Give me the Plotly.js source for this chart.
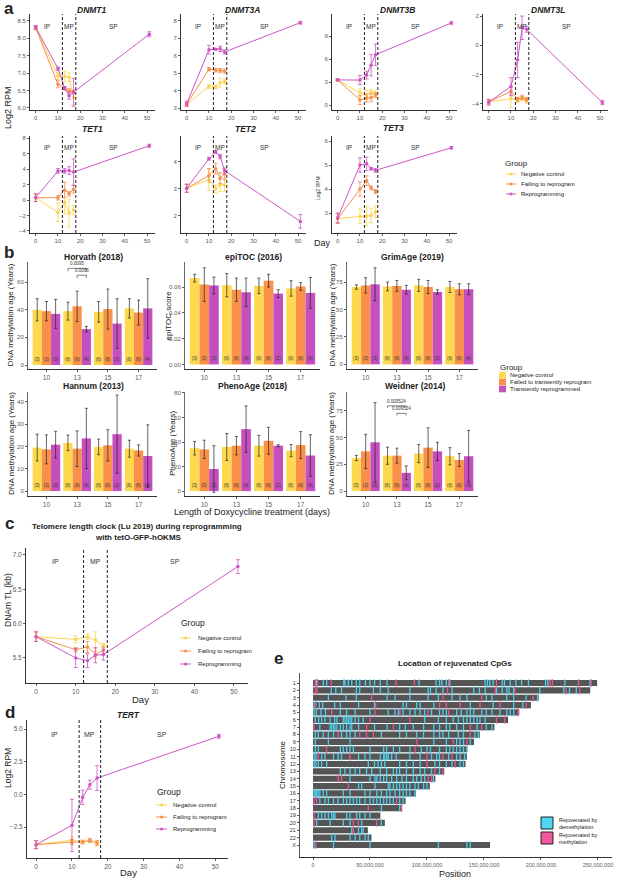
<!DOCTYPE html>
<html>
<head>
<meta charset="utf-8">
<script src="https://cdn.plot.ly/plotly-3.0.1.min.js"></script>
<style>
  body { margin: 0; background: #fff; }
  #fig { width: 617px; height: 890px; }
</style>
</head>
<body>
<div id="fig"></div>
<script>
// ---------- data ----------
const days = [0, 10, 13, 15, 17];
const daysReprog = [0, 10, 13, 15, 17, 51];

// panel a: log2 RPM, mean and error per group
const dnmt1Neg = [8.3, 6.92, 6.9, 6.88, 6.3];
const dnmt1NegSd = [0.05, 0.1, 0.15, 0.12, 0.2];
const dnmt1Fail = [8.3, 6.68, 6.56, 6.49, 6.46];
const dnmt1FailSd = [0.05, 0.1, 0.05, 0.06, 0.05];
const dnmt1Rep = [8.32, 7.13, 6.57, 6.35, 6.45, 8.12];
const dnmt1RepSd = [0.05, 0.05, 0.04, 0.1, 0.4, 0.07];

const dnmt3aNeg = [3.2, 4.25, 4.22, 4.45, 4.52];
const dnmt3aNegSd = [0.1, 0.12, 0.1, 0.25, 0.15];
const dnmt3aFail = [3.22, 5.23, 5.17, 5.15, 5.12];
const dnmt3aFailSd = [0.1, 0.1, 0.1, 0.12, 0.12];
const dnmt3aRep = [3.25, 6.35, 6.38, 6.4, 6.22, 7.9];
const dnmt3aRepSd = [0.15, 0.25, 0.05, 0.15, 0.12, 0.08];

const dnmt3bNeg = [3.26, 1.6, 1.3, 1.7, 1.45];
const dnmt3bNegSd = [0.1, 0.5, 0.6, 0.3, 0.4];
const dnmt3bFail = [3.26, 0.65, 0.9, 0.95, 1.3];
const dnmt3bFailSd = [0.1, 0.6, 0.5, 0.5, 0.3];
const dnmt3bRep = [3.28, 3.25, 3.9, 5.2, 6.55, 10.7];
const dnmt3bRepSd = [0.1, 0.6, 0.5, 1.4, 1.4, 0.15];

const dnmt3lNeg = [-3.85, -3.65, -3.7, -3.65, -3.75];
const dnmt3lNegSd = [0.15, 0.6, 0.15, 0.15, 0.2];
const dnmt3lFail = [-3.85, -3.15, -3.7, -3.55, -3.7];
const dnmt3lFailSd = [0.15, 0.3, 0.15, 0.15, 0.15];
const dnmt3lRep = [-3.88, -2.8, -1.0, 1.2, 1.1, -3.9];
const dnmt3lRepSd = [0.2, 0.6, 1.2, 0.8, 0.2, 0.15];

const tet1Neg = [0.3, -1.6, -0.3, -1.7, -1.3];
const tet1NegSd = [0.5, 1.2, 1.5, 1.8, 0.6];
const tet1Fail = [0.3, 0.3, 1.3, 0.8, 1.4];
const tet1FailSd = [0.5, 0.3, 1.0, 0.3, 0.5];
const tet1Rep = [0.3, 3.75, 3.75, 3.8, 3.6, 7.0];
const tet1RepSd = [0.5, 0.3, 0.3, 0.5, 1.7, 0.2];

const tet2Neg = [3.02, 3.35, 3.0, 3.15, 3.15];
const tet2NegSd = [0.15, 0.4, 0.15, 0.25, 0.25];
const tet2Fail = [3.02, 3.5, 3.75, 3.4, 3.55];
const tet2FailSd = [0.15, 0.25, 0.2, 0.2, 0.2];
const tet2Rep = [3.03, 4.12, 4.37, 4.2, 3.68, 1.8];
const tet2RepSd = [0.15, 0.05, 0.05, 0.08, 0.1, 0.25];

const tet3Neg = [2.77, 2.87, 2.88, 2.9, 3.05];
const tet3NegSd = [0.2, 0.3, 0.4, 0.3, 0.25];
const tet3Fail = [2.77, 4.0, 4.35, 4.05, 3.9];
const tet3FailSd = [0.2, 0.3, 0.2, 0.08, 0.08];
const tet3Rep = [2.8, 5.0, 5.05, 4.85, 4.78, 5.72];
const tet3RepSd = [0.2, 0.3, 0.28, 0.05, 0.08, 0.05];

// panel b: clocks, day categories
const doxDays = ['10', '13', '15', '17'];
const countsNeg = ['(3)', '(6)', '(6)', '(6)'];
const countsFail = ['(3)', '(6)', '(6)', '(6)'];
const countsTrans = ['(3)', '(4)', '(2)', '(4)'];

const horvathNeg = [40, 39, 38.5, 41];
const horvathNegSd = [8, 6.5, 7.5, 7];
const horvathFail = [39, 42.5, 40.5, 38];
const horvathFailSd = [7, 11, 14.5, 9];
const horvathTrans = [37, 26, 30, 41];
const horvathTransSd = [10.5, 2, 18, 21.5];

const epitocNeg = [0.067, 0.0615, 0.061, 0.059];
const epitocNegSd = [0.003, 0.009, 0.006, 0.006];
const epitocFail = [0.062, 0.058, 0.065, 0.0605];
const epitocFailSd = [0.013, 0.009, 0.005, 0.003];
const epitocTrans = [0.0613, 0.056, 0.055, 0.0555];
const epitocTransSd = [0.0065, 0.011, 0.003, 0.012];

const grimNeg = [70.5, 71, 72, 70.5];
const grimNegSd = [2, 4, 5.5, 5];
const grimFail = [72, 71.5, 70.5, 68.5];
const grimFailSd = [7, 5, 6, 5];
const grimTrans = [73, 68, 66, 68.5];
const grimTransSd = [15, 4, 2, 5];

const hannumNeg = [19.5, 21.6, 19.8, 19];
const hannumNegSd = [6, 3.5, 3.5, 3.8];
const hannumFail = [18.7, 19, 20.5, 18.2];
const hannumFailSd = [6.5, 8, 7, 2.5];
const hannumTrans = [20.8, 23.6, 25.5, 15.7];
const hannumTransSd = [6, 13.5, 17.5, 14];

const phenoNeg = [35, 36, 37, 33];
const phenoNegSd = [5.5, 11, 8.5, 5];
const phenoFail = [34, 37, 41, 37.5];
const phenoFailSd = [7.5, 7.5, 11, 11];
const phenoTrans = [18, 50.5, 37, 29];
const phenoTransSd = [19, 19, 0.8, 17];

const weidnerNeg = [30.8, 33, 35, 32.5];
const weidnerNegSd = [2.5, 8, 8.5, 8];
const weidnerFail = [37, 33, 40.5, 29];
const weidnerFailSd = [16, 7, 18.5, 6];
const weidnerTrans = [45.5, 17, 37, 32.5];
const weidnerTransSd = [37, 6.5, 8.5, 24];

// panel c: DNAm TL (kb)
const telNeg = [5.81, 5.77, 5.81, 5.76, 5.68];
const telNegSd = [0.07, 0.05, 0.04, 0.12, 0.03];
const telFail = [5.81, 5.62, 5.66, 5.55, 5.61];
const telFailSd = [0.07, 0.03, 0.08, 0.05, 0.05];
const telRep = [5.81, 5.5, 5.46, 5.54, 5.55, 6.83];
const telRepSd = [0.07, 0.14, 0.1, 0.11, 0.08, 0.1];

// panel d: TERT log2 RPM
const tertNeg = [-3.85, -3.5, -3.65, -3.55, -3.7];
const tertNegSd = [0.3, 0.25, 0.1, 0.15, 0.15];
const tertFail = [-3.85, -3.65, -3.65, -3.52, -3.72];
const tertFailSd = [0.3, 0.2, 0.15, 0.15, 0.2];
const tertRep = [-3.85, -2.37, -0.23, 0.74, 1.25, 4.44];
const tertRepSd = [0.3, 2.0, 0.55, 0.35, 0.95, 0.15];

// panel e: chromosomes and rejuvenated CpG positions (Mb)
const chromNames = ['1', '2', '3', '4', '5', '6', '7', '8', '9', '10', '11', '12',
  '13', '14', '15', '16', '17', '18', '19', '20', '21', '22', 'X'];
const chromLengths = [249250621, 243199373, 198022430, 191154276, 180915260, 171115067,
  159138663, 146364022, 141213431, 135534747, 135006516, 133851895, 115169878, 107349540,
  102531392, 90354753, 81195210, 78077248, 59128983, 63025520, 48129895, 51304566, 155270560];
const demethPos = [
  [3, 9, 12, 27, 28, 31, 34, 38, 41, 46, 50, 54, 59, 65, 93, 108, 111, 113, 117, 120, 151, 153, 155, 158, 166, 168, 173, 178, 183, 189, 204, 206, 221, 243],
  [16, 20, 25, 38, 41, 53, 59, 66, 85, 101, 103, 108, 114, 122, 141, 146, 151, 161, 166, 170, 172, 176, 199, 220, 225, 231],
  [13.5, 29, 38, 65, 72, 85, 101, 110, 122, 129, 135, 152, 157, 170, 176, 187, 197],
  [1, 5.6, 8.5, 19, 24, 40, 54, 79, 82, 91, 94, 106, 138, 158, 176, 184],
  [1, 3, 7, 11, 24, 29.5, 37, 50, 66, 72, 75, 79, 85, 89.5, 94, 98, 104, 111, 114, 117, 126, 130, 135, 138, 141, 148, 152, 157, 164, 170, 173, 176],
  [2, 5, 7.6, 10.5, 15, 19, 21, 26.6, 28, 29.5, 31, 32.5, 34, 37, 40, 44, 98, 110, 117, 123, 127.5, 132, 135, 138, 141, 144, 146.5, 151],
  [6, 15, 16.4, 18, 19.3, 21, 24, 26.6, 29.5, 32.5, 34, 40, 54, 65, 76, 81, 88, 97, 106, 111, 117, 120, 126, 132, 144, 152, 157],
  [2, 4.7, 9, 13.5, 18, 25, 29.5, 32.5, 37, 60, 76, 82, 91, 97, 106, 111, 114, 119, 127.5, 132, 142, 145],
  [2, 13.5, 32.5, 106, 117, 126, 129, 132, 138],
  [2, 4.7, 24, 26.6, 29.5, 32.5, 35.4, 50, 62, 64.6, 70.5, 76, 85, 95, 100, 103, 111, 117, 120, 123, 126, 129, 132, 135],
  [1, 2.6, 7.6, 10.5, 18, 22, 25, 40, 45.6, 50, 59, 62, 63, 64.6, 66, 69, 73, 85, 94, 104, 108.5, 111, 119, 126, 129, 133],
  [1, 2.6, 4.7, 7.6, 12, 48.5, 54, 57, 60, 63, 76, 82, 88, 94, 107, 111, 117, 122, 129, 132],
  [24, 28, 32.5, 37, 41, 47, 51.5, 59, 64.6, 70.5, 73.4, 76, 82, 88, 94, 98, 104, 111],
  [32.5, 50, 54.4, 56, 59, 62, 64.6, 69, 73.4, 78, 82, 88, 91, 95, 98, 105.6],
  [40, 42.7, 54.4, 66, 67.5, 70.5, 73.4, 76, 79, 82, 85, 89.5, 92.4, 97, 100],
  [1, 2, 3.2, 4.4, 6, 9, 12, 26.6, 32.5, 45.6, 50, 56, 60, 64.6, 67.5, 72, 76, 79, 82, 85, 89.5],
  [6, 10.5, 13.5, 18, 22, 26.6, 29.5, 32.5, 35.4, 38.3, 41, 45.6, 50, 53, 56, 59, 62, 64.6, 67.5, 70.5, 76, 79],
  [60, 76],
  [4.7, 7.6, 10.5, 13.5, 16.4, 18, 19.3, 29.5, 32.5, 38.3, 41, 45.6, 50],
  [3.2, 15, 26.6, 32.5, 42.7, 60],
  [34, 40, 42.7, 44],
  [16.4, 19.3, 32.5, 37, 41, 45.6, 48.5],
  [1, 18, 50, 110, 135, 138]
];
const methPos = [
  [2, 4, 16, 73, 89, 119, 161, 208, 210, 233, 244],
  [2, 3.5, 118, 160, 177, 222, 234],
  [51.5, 114, 148, 193],
  [2.6, 55, 111, 117, 129, 146.5, 164, 187],
  [16.4, 54.4, 76.3, 101, 119, 180],
  [50, 85, 161, 168],
  [1, 47, 70.5, 138, 148],
  [22, 41, 47, 53, 138],
  [91, 123, 135],
  [12, 89.5],
  [4.7, 32.5, 100, 114, 122],
  [100, 124.6],
  [107, 114],
  [22, 25, 101, 104],
  [31],
  [],
  [1, 3.2, 73.4],
  [48.5, 77.8],
  [1],
  [1, 35.4, 39.8, 55.8],
  [35.4],
  [],
  [2.6]
];

// ---------- styling ----------
const W = 617, H = 890;
const px = v => v / W;
const py = v => 1 - v / H;

const colNeg = '#FDD452', colFail = '#F78F4D', colRep = '#CD57C6';
const barNeg = '#FED84E', barFail = '#F9914A', barRep = '#C54FBF';
const cyan = '#4FD6F5', pink = '#F2579B';
const FONT = 'Liberation Sans, Arial, sans-serif';

const axBase = {
  showline: true, linecolor: '#333', linewidth: 1, ticks: 'outside', ticklen: 2,
  tickwidth: 0.8, tickcolor: '#333', tickfont: { size: 6, color: '#5a5a5a' },
  showgrid: false, zeroline: false, fixedrange: true
};

const layout = {
  width: W, height: H, margin: { l: 0, r: 0, t: 0, b: 0 },
  paper_bgcolor: '#fff', plot_bgcolor: 'rgba(0,0,0,0)', showlegend: false,
  font: { family: FONT, color: '#222' },
  barmode: 'group', bargap: 0.1, bargroupgap: 0,
  annotations: [], shapes: []
};
const traces = [];

function addAxes(n, xr, yr, xopt, yopt) {
  const s = n === 1 ? '' : String(n);
  layout['xaxis' + s] = Object.assign({}, axBase, { domain: [px(xr[0]), px(xr[1])], anchor: 'y' + s }, xopt);
  layout['yaxis' + s] = Object.assign({}, axBase, { domain: [py(yr[1]), py(yr[0])], anchor: 'x' + s }, yopt);
  return { xa: 'x' + s, ya: 'y' + s };
}

function txt(x, y, text, size, opt) {
  layout.annotations.push(Object.assign({
    xref: 'paper', yref: 'paper', x: px(x), y: py(y), text: text, showarrow: false,
    font: { size: size, color: '#222', family: FONT }, xanchor: 'center', yanchor: 'middle'
  }, opt || {}));
}

function lineTrace(ax, x, y, sd, color) {
  return {
    type: 'scatter', mode: 'lines+markers', x: x, y: y, xaxis: ax.xa, yaxis: ax.ya,
    line: { color: color, width: 1 }, marker: { color: color, size: 3.5 },
    error_y: { type: 'data', array: sd, color: color, thickness: 0.8, width: 2 },
    hoverinfo: 'skip', cliponaxis: false
  };
}

function phases(ax, yFrac, size) {
  [['IP', 5], ['MP', 15], ['SP', 35]].forEach(([t, d]) => layout.annotations.push({
    xref: ax.xa, yref: ax.ya + ' domain', x: d, y: yFrac, text: t, showarrow: false,
    font: { size: size, color: '#333', family: FONT }
  }));
  [12, 18].forEach(d => layout.shapes.push({
    type: 'line', xref: ax.xa, yref: ax.ya + ' domain', x0: d, x1: d, y0: 0, y1: 1,
    line: { color: '#222', width: 1, dash: '3px,2px' }
  }));
}

function lineLegend(x0, yTitle, ys, lineX, textX, labels, titleSize, size) {
  txt(x0, yTitle, 'Group', titleSize, { xanchor: 'left' });
  [colNeg, colFail, colRep].forEach((c, i) => {
    layout.shapes.push({ type: 'line', xref: 'paper', yref: 'paper', x0: px(lineX[0]), x1: px(lineX[1]),
      y0: py(ys[i]), y1: py(ys[i]), line: { color: c, width: 1 } });
    const cx = (lineX[0] + lineX[1]) / 2;
    layout.shapes.push({ type: 'circle', xref: 'paper', yref: 'paper', x0: px(cx - 1.6), x1: px(cx + 1.6),
      y0: py(ys[i] + 1.6), y1: py(ys[i] - 1.6), fillcolor: c, line: { color: c, width: 0 } });
    txt(textX, ys[i], labels[i], size, { xanchor: 'left' });
  });
}

// ---------- panel a ----------
const aPanels = [
  { name: 'DNMT1', n: 1, xr: [30, 155], yr: [14, 110], range: [5.94, 8.70], tv: [6, 6.5, 7, 7.5, 8, 8.5], fmt: '.1f', tx: 92, ty: 10,
    neg: dnmt1Neg, negSd: dnmt1NegSd, fail: dnmt1Fail, failSd: dnmt1FailSd, rep: dnmt1Rep, repSd: dnmt1RepSd },
  { name: 'DNMT3A', n: 2, xr: [181, 306], yr: [14, 110], range: [2.89, 8.40], tv: [3, 4, 5, 6, 7, 8], fmt: '', tx: 242, ty: 10,
    neg: dnmt3aNeg, negSd: dnmt3aNegSd, fail: dnmt3aFail, failSd: dnmt3aFailSd, rep: dnmt3aRep, repSd: dnmt3aRepSd },
  { name: 'DNMT3B', n: 3, xr: [332, 457], yr: [14, 110], range: [-0.65, 11.87], tv: [0, 3, 6, 9], fmt: '', tx: 397, ty: 10,
    neg: dnmt3bNeg, negSd: dnmt3bNegSd, fail: dnmt3bFail, failSd: dnmt3bFailSd, rep: dnmt3bRep, repSd: dnmt3bRepSd },
  { name: 'DNMT3L', n: 4, xr: [483, 608], yr: [14, 110], range: [-4.41, 2.14], tv: [-4, -2, 0, 2], fmt: '', tx: 548, ty: 10,
    neg: dnmt3lNeg, negSd: dnmt3lNegSd, fail: dnmt3lFail, failSd: dnmt3lFailSd, rep: dnmt3lRep, repSd: dnmt3lRepSd },
  { name: 'TET1', n: 5, xr: [30, 155], yr: [136, 233], range: [-4.26, 8.26], tv: [-4, -2, 0, 2, 4, 6, 8], fmt: '', tx: 92, ty: 129,
    neg: tet1Neg, negSd: tet1NegSd, fail: tet1Fail, failSd: tet1FailSd, rep: tet1Rep, repSd: tet1RepSd },
  { name: 'TET2', n: 6, xr: [181, 306], yr: [136, 233], range: [1.37, 4.96], tv: [2, 3, 4], fmt: '', tx: 245, ty: 129,
    neg: tet2Neg, negSd: tet2NegSd, fail: tet2Fail, failSd: tet2FailSd, rep: tet2Rep, repSd: tet2RepSd },
  { name: 'TET3', n: 7, xr: [332, 457], yr: [136, 233], range: [2.17, 6.21], tv: [3, 4, 5, 6], fmt: '', tx: 393, ty: 128,
    neg: tet3Neg, negSd: tet3NegSd, fail: tet3Fail, failSd: tet3FailSd, rep: tet3Rep, repSd: tet3RepSd }
];

aPanels.forEach(p => {
  const ax = addAxes(p.n, p.xr, p.yr,
    { range: [-2.55, 53.55], tickvals: [0, 10, 20, 30, 40, 50] },
    { range: p.range, tickvals: p.tv, tickformat: p.fmt });
  traces.push(lineTrace(ax, days, p.neg, p.negSd, colNeg));
  traces.push(lineTrace(ax, days, p.fail, p.failSd, colFail));
  traces.push(lineTrace(ax, daysReprog, p.rep, p.repSd, colRep));
  phases(ax, p.n <= 4 ? 0.93 : 0.94, 6.5);
  txt(p.tx, p.ty, '<b><i>' + p.name + '</i></b>', 8.5);
});
txt(2, 9, '<b>a</b>', 17, { xanchor: 'left' });
txt(8, 108, 'Log2 RPM', 9, { textangle: -90 });
txt(318, 188, 'Log2 RPM', 5, { textangle: -90 });
txt(322, 243, 'Day', 9);
lineLegend(503, 163, [174, 184, 194], [506, 516], 519,
  ['Negative control', 'Failing to reprogram', 'Reprogramming'], 8, 6);

// ---------- panel b ----------
const bPanels = [
  { name: 'Horvath (2018)', n: 8, xr: [28, 157], yr: [262, 369], range: [-2.9, 74.6], tv: [0, 20, 40, 60], fmt: '', tx: 93, ty: 257,
    ytitle: 'DNA methylation age (Years)', yx: 10, neg: horvathNeg, negSd: horvathNegSd, fail: horvathFail, failSd: horvathFailSd, tr: horvathTrans, trSd: horvathTransSd },
  { name: 'epiTOC (2016)', n: 9, xr: [185, 320], yr: [262, 369], range: [-0.0035, 0.0795], tv: [0, 0.02, 0.04, 0.06], fmt: '.2f', tx: 253, ty: 257,
    ytitle: 'epiTOC score', yx: 168, neg: epitocNeg, negSd: epitocNegSd, fail: epitocFail, failSd: epitocFailSd, tr: epitocTrans, trSd: epitocTransSd },
  { name: 'GrimAge (2019)', n: 10, xr: [347, 478], yr: [262, 369], range: [-4.2, 93.3], tv: [0, 25, 50, 75], fmt: '', tx: 412, ty: 257,
    ytitle: 'DNA methylation age (Years)', yx: 332, neg: grimNeg, negSd: grimNegSd, fail: grimFail, failSd: grimFailSd, tr: grimTrans, trSd: grimTransSd },
  { name: 'Hannum (2013)', n: 11, xr: [28, 157], yr: [392, 496], range: [-2.2, 44.4], tv: [0, 10, 20, 30, 40], fmt: '', tx: 93, ty: 386,
    ytitle: 'DNA methylation age (Years)', yx: 11, neg: hannumNeg, negSd: hannumNegSd, fail: hannumFail, failSd: hannumFailSd, tr: hannumTrans, trSd: hannumTransSd },
  { name: 'PhenoAge (2018)', n: 12, xr: [185, 320], yr: [392, 496], range: [-4, 80.8], tv: [0, 20, 40, 60, 80], fmt: '', tx: 252, ty: 386,
    ytitle: 'PhenoAge (Years)', yx: 172, neg: phenoNeg, negSd: phenoNegSd, fail: phenoFail, failSd: phenoFailSd, tr: phenoTrans, trSd: phenoTransSd },
  { name: 'Weidner (2014)', n: 13, xr: [347, 478], yr: [392, 496], range: [-4.6, 92.4], tv: [0, 25, 50, 75], fmt: '', tx: 415, ty: 386,
    ytitle: 'DNA methylation age (Years)', yx: 331, neg: weidnerNeg, negSd: weidnerNegSd, fail: weidnerFail, failSd: weidnerFailSd, tr: weidnerTrans, trSd: weidnerTransSd }
];

bPanels.forEach(p => {
  const ax = addAxes(p.n, p.xr, p.yr,
    { range: [-0.6, 3.6], tickvals: [0, 1, 2, 3], ticktext: doxDays, tickfont: { size: 6.5, color: '#5a5a5a' } },
    { range: p.range, tickvals: p.tv, tickformat: p.fmt, linecolor: '#666' });
  [[p.neg, p.negSd, barNeg, countsNeg], [p.fail, p.failSd, barFail, countsFail], [p.tr, p.trSd, barRep, countsTrans]]
    .forEach(([v, sd, c, cnt]) => traces.push({
      type: 'bar', x: [0, 1, 2, 3], y: v, xaxis: ax.xa, yaxis: ax.ya,
      marker: { color: c, line: { width: 0 } },
      error_y: { type: 'data', array: sd, color: '#222', thickness: 0.7, width: 1.5 },
      text: cnt, textposition: 'inside', insidetextanchor: 'start', constraintext: 'none',
      textangle: 0, textfont: { size: 4.5, color: '#333', family: FONT }, hoverinfo: 'skip'
    }));
  txt(p.tx, p.ty, '<b>' + p.name + '</b>', 8.5);
  txt(p.yx, (p.yr[0] + p.yr[1]) / 2, p.ytitle, 8, { textangle: -90 });
});

// significance brackets
function bracket(n, x0, x1, y, label) {
  const s = n === 1 ? '' : String(n);
  layout.shapes.push({ type: 'path', xref: 'x' + s, yref: 'y' + s,
    path: `M ${x0},${y - 2} L ${x0},${y} L ${x1},${y} L ${x1},${y - 2}`, line: { color: '#333', width: 0.6 } });
  layout.annotations.push({ xref: 'x' + s, yref: 'y' + s, x: (x0 + x1) / 2, y: y, yanchor: 'bottom',
    text: label, showarrow: false, font: { size: 4.5, color: '#333', family: FONT } });
}
bracket(8, 0.7, 1.3, 70, '0.0095');
bracket(8, 1.0, 1.3, 65, '0.0095');
bracket(13, 0.7, 1.3, 79.5, '0.009524');
bracket(13, 1.0, 1.3, 72.5, '0.009524');

txt(2, 252, '<b>b</b>', 17, { xanchor: 'left' });
txt(252, 512, 'Length of Doxycycline treatment (days)', 9);
txt(498, 367, 'Group', 8, { xanchor: 'left' });
['Negative control', 'Failed to transiently reprogram', 'Transiently reprogrammed'].forEach((lab, i) => {
  const y = [375, 382, 389][i];
  layout.shapes.push({ type: 'rect', xref: 'paper', yref: 'paper', x0: px(499), x1: px(506),
    y0: py(y + 3.3), y1: py(y - 3.3), fillcolor: [barNeg, barFail, barRep][i], line: { width: 0 } });
  txt(508, y, lab, 6, { xanchor: 'left' });
});

// ---------- panel c ----------
const axC = addAxes(14, [26, 248], [548, 683],
  { range: [-2.55, 53.55], tickvals: [0, 10, 20, 30, 40, 50], tickfont: { size: 6.5, color: '#5a5a5a' } },
  { range: [5.136, 7.10], tickvals: [5.5, 6.0, 6.5, 7.0], tickformat: '.1f', tickfont: { size: 6.5, color: '#5a5a5a' } });
traces.push(lineTrace(axC, days, telNeg, telNegSd, colNeg));
traces.push(lineTrace(axC, days, telFail, telFailSd, colFail));
traces.push(lineTrace(axC, daysReprog, telRep, telRepSd, colRep));
phases(axC, 0.94, 7);
txt(3, 523, '<b>c</b>', 17, { xanchor: 'left' });
txt(137, 526, '<b>Telomere length clock (Lu 2019) during reprogramming</b>', 8);
txt(138, 537, '<b>with tetO-GFP-hOKMS</b>', 8);
txt(8, 600, 'DNAm TL (kb)', 8.5, { textangle: -90 });
txt(140, 699, 'Day', 9.5);
lineLegend(179, 623, [638, 651, 664], [180, 191], 196,
  ['Negative control', 'Failing to reprogram', 'Reprogramming'], 8.5, 6);

// ---------- panel d ----------
const axD = addAxes(15, [27, 228], [720, 858],
  { range: [-2.55, 53.55], tickvals: [0, 10, 20, 30, 40, 50], tickfont: { size: 6.5, color: '#5a5a5a' } },
  { range: [-4.87, 5.69], tickvals: [-2.5, 0, 2.5, 5], tickformat: '.1f', tickfont: { size: 6.5, color: '#5a5a5a' } });
traces.push(lineTrace(axD, days, tertNeg, tertNegSd, colNeg));
traces.push(lineTrace(axD, days, tertFail, tertFailSd, colFail));
traces.push(lineTrace(axD, daysReprog, tertRep, tertRepSd, colRep));
phases(axD, 0.935, 7);
txt(3, 712, '<b>d</b>', 17, { xanchor: 'left' });
txt(128, 715, '<b><i>TERT</i></b>', 8.5);
txt(8, 768, 'Log2 RPM', 8.5, { textangle: -90 });
txt(128, 872, 'Day', 9.5);
lineLegend(155, 792, [805, 817, 829], [156, 167], 171,
  ['Negative control', 'Failing to reprogram', 'Reprogramming'], 8.5, 6);

// ---------- panel e ----------
const axE = addAxes(16, [300, 612], [673, 857],
  { range: [-11.4e6, 262.3e6], tickvals: [0, 50e6, 100e6, 150e6, 200e6, 250e6], tickformat: ',d', tickfont: { size: 5.5, color: '#5a5a5a' } },
  { type: 'category', categoryarray: chromNames, range: [23.63, -1.36], tickfont: { size: 5.5, color: '#333' }, linecolor: '#555' });
traces.push({
  type: 'bar', orientation: 'h', x: chromLengths, y: chromNames, xaxis: axE.xa, yaxis: axE.ya,
  width: 0.84, marker: { color: '#555555', line: { width: 0 } }, hoverinfo: 'skip'
});
function stripes(posList, color) {
  const xs = [], ys = [];
  posList.forEach((arr, i) => arr.forEach(p => { xs.push(p * 1e6); ys.push(chromNames[i]); }));
  return {
    type: 'scatter', mode: 'markers', x: xs, y: ys, xaxis: axE.xa, yaxis: axE.ya,
    marker: { symbol: 'line-ns-open', size: 5.5, color: color, line: { color: color, width: 1.3 } },
    opacity: 0.92, hoverinfo: 'skip'
  };
}
traces.push(stripes(demethPos, cyan));
traces.push(stripes(methPos, pink));
txt(278, 658, '<b>e</b>', 17);
txt(455, 663, '<b>Location of rejuvenated CpGs</b>', 8);
txt(282, 765, 'Chromosome', 8, { textangle: -90 });
txt(455, 874, 'Position', 9);
[[cyan, 823, 'Rejuvenated by<br>demethylation'], [pink, 838, 'Rejuvenated by<br>methylation']].forEach(([c, y, lab]) => {
  layout.shapes.push({ type: 'rect', xref: 'paper', yref: 'paper', x0: px(541), x1: px(553),
    y0: py(y + 6), y1: py(y - 6), fillcolor: c, line: { color: '#222', width: 1 } });
  txt(557, y, lab, 5.5, { xanchor: 'left', align: 'left' });
});

Plotly.newPlot('fig', traces, layout, { staticPlot: true, displayModeBar: false });
</script>
</body>
</html>
